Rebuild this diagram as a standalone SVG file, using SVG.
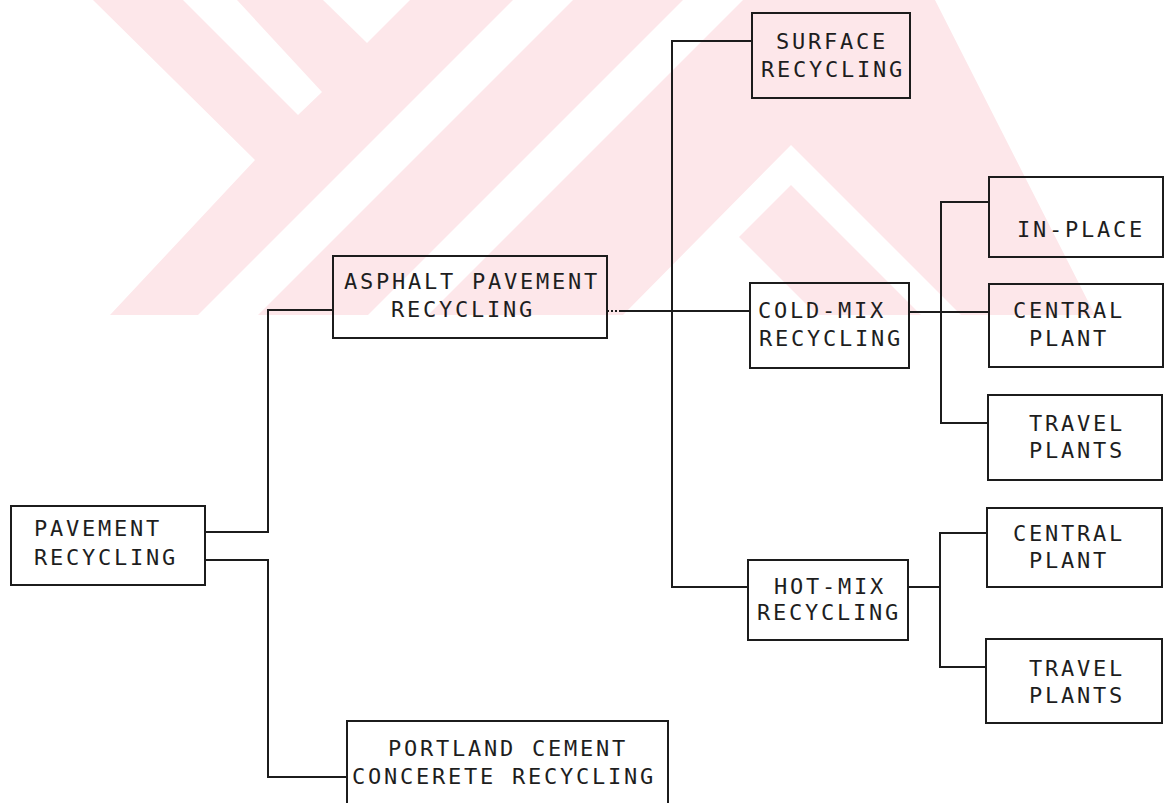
<svg xmlns="http://www.w3.org/2000/svg" width="1164" height="803" viewBox="0 0 1164 803">
  <style>
    .wm { fill: #fde7ea; stroke: none; }
    .wh { fill: #ffffff; stroke: none; }
    .box { fill: none; stroke: #1c1c1c; stroke-width: 2; }
    .ln { fill: none; stroke: #1c1c1c; stroke-width: 2; }
    .dot { fill: none; stroke: #1c1c1c; stroke-width: 2; stroke-dasharray: 2 2; }
    text { font-family: "DejaVu Sans Mono", "Liberation Mono", monospace; font-size: 22px; letter-spacing: 2.76px; fill: #1e1e1e; }
  </style>
  <rect x="0" y="0" width="1164" height="803" fill="#ffffff"/>
  <g id="watermark">
    <polygon class="wm" points="93,0 935,0 1095,315 110,315 255,160"/>
    <polygon class="wh" points="183,0 237,0 322,92 298,115"/>
    <polygon class="wh" points="323,0 410,0 367,43"/>
    <polygon class="wh" points="513,0 573,0 258,315 198,315"/>
    <polygon class="wh" points="683,0 743,0 428,315 368,315"/>
    <polygon class="wh" points="791,145 961,315 921,315 791,185 739,237 817,315 623,315"/>
  </g>
  <g id="connectors">
    <polyline class="ln" points="205,532 268,532 268,310 333,310"/>
    <polyline class="ln" points="205,560 268,560 268,777 347,777"/>
    <line class="dot" x1="607" y1="311" x2="621" y2="311"/>
    <line class="ln" x1="621" y1="311" x2="750" y2="311"/>
    <polyline class="ln" points="752,41 672,41 672,587 748,587"/>
    <line class="ln" x1="909" y1="312" x2="989" y2="312"/>
    <polyline class="ln" points="989,202 941,202 941,423 988,423"/>
    <line class="ln" x1="908" y1="587" x2="940" y2="587"/>
    <polyline class="ln" points="987,533 940,533 940,667 986,667"/>
  </g>
  <g id="pavement">
    <rect class="box" x="11" y="506" width="194" height="79"/>
    <text x="34" y="536">PAVEMENT</text>
    <text x="34" y="565">RECYCLING</text>
  </g>
  <g id="asphalt">
    <rect class="box" x="333" y="256" width="274" height="82"/>
    <text x="344" y="289">ASPHALT PAVEMENT</text>
    <text x="391" y="317">RECYCLING</text>
  </g>
  <g id="portland">
    <rect class="box" x="347" y="721" width="321" height="100"/>
    <text x="388" y="756">PORTLAND CEMENT</text>
    <text x="352" y="784">CONCERETE RECYCLING</text>
  </g>
  <g id="surface">
    <rect class="box" x="752" y="13" width="158" height="85"/>
    <text x="776" y="49">SURFACE</text>
    <text x="761" y="77">RECYCLING</text>
  </g>
  <g id="coldmix">
    <rect class="box" x="750" y="283" width="159" height="85"/>
    <text x="758" y="318">COLD-MIX</text>
    <text x="759" y="346">RECYCLING</text>
  </g>
  <g id="hotmix">
    <rect class="box" x="748" y="560" width="160" height="80"/>
    <text x="774" y="594">HOT-MIX</text>
    <text x="757" y="620">RECYCLING</text>
  </g>
  <g id="cold-inplace">
    <rect class="box" x="989" y="177" width="174" height="80"/>
    <text x="1017" y="237">IN-PLACE</text>
  </g>
  <g id="cold-central">
    <rect class="box" x="989" y="284" width="174" height="83"/>
    <text x="1013" y="318">CENTRAL</text>
    <text x="1029" y="346">PLANT</text>
  </g>
  <g id="cold-travel">
    <rect class="box" x="988" y="395" width="174" height="85"/>
    <text x="1029" y="431">TRAVEL</text>
    <text x="1029" y="458">PLANTS</text>
  </g>
  <g id="hot-central">
    <rect class="box" x="987" y="508" width="175" height="79"/>
    <text x="1013" y="541">CENTRAL</text>
    <text x="1029" y="568">PLANT</text>
  </g>
  <g id="hot-travel">
    <rect class="box" x="986" y="639" width="176" height="84"/>
    <text x="1029" y="676">TRAVEL</text>
    <text x="1029" y="703">PLANTS</text>
  </g>
</svg>
